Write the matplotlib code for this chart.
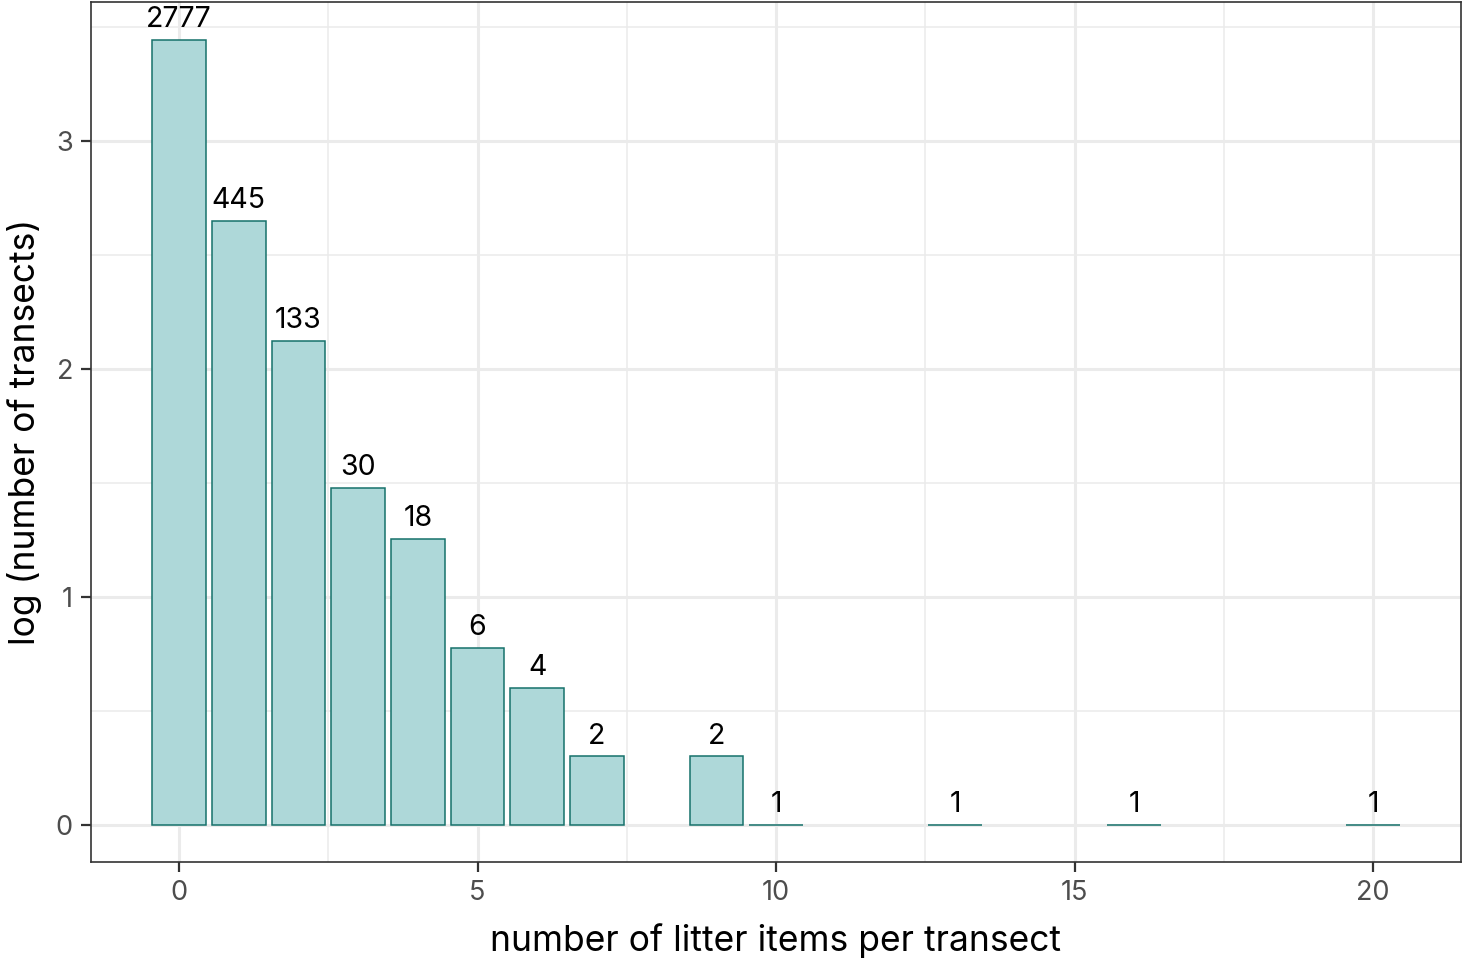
import numpy as np
import matplotlib
matplotlib.use('Agg')
import matplotlib.pyplot as plt

plt.rcParams['font.family'] = ['Inter', 'DejaVu Sans']

# litter items per transect and number of transects
items = [0, 1, 2, 3, 4, 5, 6, 7, 9, 10, 13, 16, 20]
counts = [2777, 445, 133, 30, 18, 6, 4, 2, 2, 1, 1, 1, 1]
x_ticks = [0, 5, 10, 15, 20]
y_ticks = [0, 1, 2, 3]

log_counts = np.log10(counts)

fig = plt.figure(figsize=(14.63, 9.65), dpi=100)
ax = fig.add_axes([0.0622, 0.1067, 0.9364, 0.8912])

# grid like theme_bw
for v in np.arange(-2.5, 22.6, 2.5):
    ax.axvline(v, color='#ebebeb', lw=2.2 if v % 5 == 0 else 1.1, zorder=0)
for v in np.arange(0, 3.6, 0.5):
    ax.axhline(v, color='#ebebeb', lw=2.2 if v % 1 == 0 else 1.1, zorder=0)

ax.bar(items, log_counts, width=0.9, color='#aed8d9', edgecolor='#16716b', linewidth=1.1, zorder=2)
for xi, h, c in zip(items, log_counts, counts):
    ax.text(xi, h + 0.03, str(c), ha='center', va='bottom', fontsize=20.5, color='black', zorder=3)

ax.set_xlim(-1.474, 21.47)
ax.set_ylim(-0.162, 3.61)
ax.set_xticks(x_ticks)
ax.set_yticks(y_ticks)
ax.tick_params(labelsize=19.5, labelcolor='#4d4d4d', color='#333333', width=1.6, length=7, pad=6)
for s in ax.spines.values():
    s.set_color('#333333')
    s.set_linewidth(1.2)

ax.set_xlabel('number of litter items per transect', fontsize=25.5, labelpad=12)
ax.set_ylabel('log (number of transects)', fontsize=25.5, labelpad=10)

fig.savefig('out.png', dpi=100)
